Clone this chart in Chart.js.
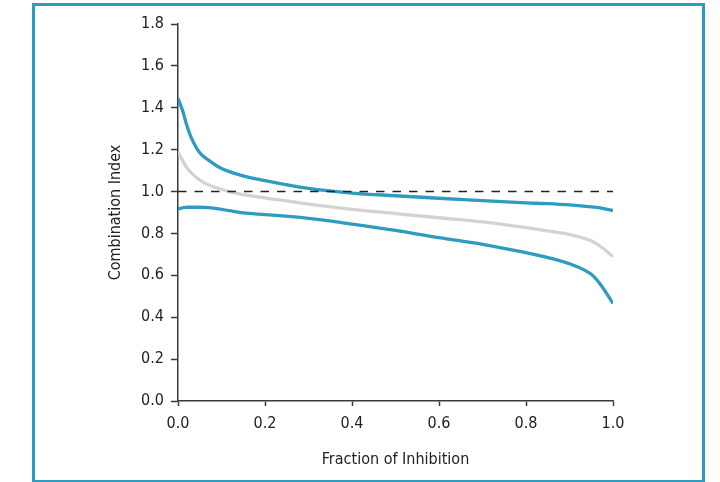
<!DOCTYPE html>
<html lang="en">
<head>
  <meta charset="UTF-8" />
  <title>Combination Index</title>
  <script src="https://cdn.jsdelivr.net/npm/chart.js"></script>
  <style>
    body { margin: 0; background: white; }
    .wrap { position: relative; width: 720px; height: 482px; }
    .frame { position: absolute; left: 32px; top: 3px; width: 667px; height: 474px; border: 3px solid #2e9bc1; }
    canvas { position: absolute; left: 0; top: 0; }
  </style>
</head>
<body>

  <div class="wrap">
    <div class="frame"></div>
    <canvas id="ciChart" width="720" height="482"></canvas>
  </div>

  <script>
    // fraction affected (x) and combination index values
    const fa = [0, 0.01, 0.02, 0.03, 0.05, 0.07, 0.1, 0.15, 0.2, 0.3, 0.4, 0.5, 0.6, 0.7, 0.8, 0.85, 0.9, 0.95, 0.97, 1.0];
    const upper = [1.445, 1.39, 1.318, 1.26, 1.185, 1.15, 1.11, 1.075, 1.052, 1.015, 0.993, 0.98, 0.968, 0.957, 0.946, 0.942, 0.936, 0.927, 0.922, 0.91];
    const mean  = [1.19, 1.15, 1.115, 1.09, 1.055, 1.032, 1.01, 0.985, 0.97, 0.94, 0.915, 0.895, 0.875, 0.855, 0.828, 0.812, 0.795, 0.765, 0.74, 0.69];
    const lower = [0.917, 0.922, 0.925, 0.925, 0.925, 0.923, 0.915, 0.898, 0.89, 0.872, 0.845, 0.815, 0.78, 0.748, 0.708, 0.685, 0.655, 0.605, 0.56, 0.466];
    const additiveLine = [1, 1];
    const additiveX = [0, 1];

    const teal = '#2e9bc1';
    const grey = '#d3d3d3';
    const axisColor = '#3a3a3a';
    const fontFamily = '"Liberation Sans Narrow", "DejaVu Sans Condensed", "Liberation Sans", sans-serif';

    const toPoints = (xs, ys) => xs.map((x, i) => ({ x: x, y: ys[i] }));

    const ctx = document.getElementById('ciChart').getContext('2d');
    new Chart(ctx, {
      type: 'line',
      data: {
        datasets: [
          { data: toPoints(additiveX, additiveLine), borderColor: '#222', borderWidth: 1.5, borderDash: [8.5, 8], pointRadius: 0, order: 0 },
          { data: toPoints(fa, upper), borderColor: teal, borderWidth: 3.3, pointRadius: 0, cubicInterpolationMode: 'monotone', order: 1 },
          { data: toPoints(fa, lower), borderColor: teal, borderWidth: 3.3, pointRadius: 0, cubicInterpolationMode: 'monotone', order: 2 },
          { data: toPoints(fa, mean), borderColor: grey, borderWidth: 3.3, pointRadius: 0, cubicInterpolationMode: 'monotone', order: 3 }
        ]
      },
      options: {
        responsive: false,
        animation: false,
        layout: { padding: { left: 0, top: 24, right: 107, bottom: 0 } },
        plugins: { legend: { display: false }, tooltip: { enabled: false } },
        scales: {
          x: {
            type: 'linear',
            min: 0, max: 1,
            afterFit: s => { s.height = 81; },
            ticks: { stepSize: 0.2, padding: 8, color: '#222', font: { family: fontFamily, size: 16 }, callback: v => v.toFixed(1) },
            grid: { drawOnChartArea: false, tickLength: 5, tickColor: axisColor, tickWidth: 1.5 },
            border: { color: axisColor, width: 1.5 },
            title: { display: true, text: 'Fraction of Inhibition', color: '#222', font: { family: fontFamily, size: 16 }, padding: { top: 0, bottom: 13 } }
          },
          y: {
            min: 0, max: 1.8,
            afterFit: s => { s.width = 178; },
            ticks: { stepSize: 0.2, padding: 7, color: '#222', font: { family: fontFamily, size: 16 }, callback: v => v.toFixed(1) },
            grid: { drawOnChartArea: false, tickLength: 7, tickColor: axisColor, tickWidth: 1.5 },
            border: { color: axisColor, width: 1.5 },
            title: { display: true, text: 'Combination Index', color: '#222', font: { family: fontFamily, size: 16 }, padding: { top: 106, bottom: 0 } }
          }
        }
      }
    });
  </script>

</body>
</html>
